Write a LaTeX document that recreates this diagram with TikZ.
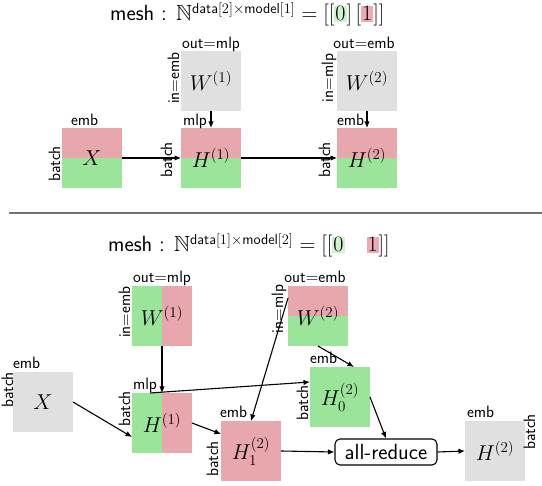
\RequirePackage{fix-cm}
\documentclass[tikz,border=0pt]{standalone}
\usepackage{amssymb}
\usepackage{fontspec}
\usetikzlibrary{arrows.meta,calc}

\definecolor{cgreen}{RGB}{154,229,154}
\definecolor{cpink}{RGB}{232,166,173}
\definecolor{cgray}{RGB}{224,224,224}
\definecolor{hlgreen}{RGB}{206,242,206}
\definecolor{hlpink}{RGB}{238,170,180}

\newcommand{\hlbox}[2]{{\setlength{\fboxsep}{1pt}\colorbox{#1}{$#2$}}}
\newcommand{\meshexp}[1]{\mbox{\fontsize{14.5}{17}\selectfont\sffamily #1}}

\tikzset{
  mat/.style={minimum width=60pt,minimum height=60pt,inner sep=0pt,outer sep=0pt,
    font=\fontsize{21.5}{25}\selectfont},
  grayb/.style={mat,fill=cgray},
  tbsplit/.style={mat,fill=cgreen,path picture={
    \fill[cpink] (path picture bounding box.north west) rectangle (path picture bounding box.east);}},
  lrsplit/.style={mat,fill=cpink,path picture={
    \fill[cgreen] (path picture bounding box.north west) rectangle (path picture bounding box.south);}},
  fullg/.style={mat,fill=cgreen},
  fullp/.style={mat,fill=cpink},
  lab/.style={font=\sffamily\fontsize{16.5}{19}\selectfont,inner sep=0pt,outer sep=0pt},
  vlab/.style={lab,rotate=90,anchor=base},
  toplab/.style={lab,anchor=base west},
  conn/.style={line width=1.1pt,-{Latex[length=6.5pt,width=5.5pt]}},
  title/.style={font=\sffamily\fontsize{22}{26}\selectfont,inner sep=0pt,anchor=base west},
}

\begin{document}
\begin{tikzpicture}[x=1pt,y=-1pt]
\useasboundingbox (0,0) rectangle (542,486);

% ---------- data-parallel layout ----------
\node[title] (t1) at (110,21)
  {mesh : $\mathbb{N}^{\meshexp{data$[2]\times$model$[1]$}}=[[\hlbox{hlgreen}{0}]\,[\hlbox{hlpink}{1}]]$};

\node[tbsplit] (X) at (92,158) {$X$};
\node[grayb] (W1) at (211,81) {$W^{(1)}$};
\node[tbsplit] (H1) at (211,158) {$H^{(1)}$};
\node[grayb] (W2) at (367,81) {$W^{(2)}$};
\node[tbsplit] (H2) at (367,158) {$H^{(2)}$};

\node[toplab] (Xe) at (71,126) {emb};
\node[vlab] (Xb) at (60,164) {batch};
\node[lab,anchor=base] (W1o) at (211,49) {out$=$mlp};
\node[vlab] (W1i) at (179,78) {in$=$emb};
\node[toplab] (H1m) at (183,126) {mlp};
\node[vlab] (H1b) at (172,160) {batch};
\node[lab,anchor=base] (W2o) at (364,49) {out$=$emb};
\node[vlab] (W2i) at (333,78) {in$=$mlp};
\node[toplab] (H2e) at (337,126) {emb};
\node[vlab] (H2b) at (330,160) {batch};

\draw[conn] (X.east) -- (H1.west);
\draw[conn] (H1.east) -- (H2.west);
\draw[conn] (W1.south) -- (H1.north);
\draw[conn] (W2.south) -- (H2.north);

% separator
\coordinate (sepL) at (9,213);
\coordinate (sepR) at (542,213);
\draw[line width=1.4pt,black!55] (sepL) -- (sepR);

% ---------- model-parallel layout ----------
\node[title] (t2) at (108,252)
  {mesh : $\mathbb{N}^{\meshexp{data$[1]\times$model$[2]$}}=[[\hlbox{hlgreen}{0}\quad\hlbox{hlpink}{1}]]$};

\node[grayb] (bX) at (43,402) {$X$};
\node[lrsplit] (bW1) at (162,316) {$W^{(1)}$};
\node[lrsplit] (bH1) at (162,423) {$H^{(1)}$};
\node[tbsplit] (bW2) at (318,316) {$W^{(2)}$};
\node[fullg] (H0) at (340,397) {$H^{(2)}_0$};
\node[fullp] (H12) at (251,451) {$H^{(2)}_1$};
\node[draw,line width=1.1pt,rounded corners=5pt,minimum width=102pt,minimum height=26pt,
  inner sep=0pt,font=\sffamily\fontsize{22}{26}\selectfont] (AR) at (386,452) {all-reduce};
\node[grayb] (Ho) at (495,451) {$H^{(2)}$};

\node[toplab] (bXe) at (13,369) {emb};
\node[vlab] (bXb) at (13,390) {batch};
\node[lab,anchor=base] (bW1o) at (162,283) {out$=$mlp};
\node[vlab] (bW1i) at (130,312) {in$=$emb};
\node[toplab] (bH1m) at (133,390) {mlp};
\node[vlab] (bH1b) at (130,409) {batch};
\node[lab,anchor=base] (bW2o) at (315,283) {out$=$emb};
\node[vlab] (bW2i) at (283,309) {in$=$mlp};
\node[toplab] (H0e) at (310,364) {emb};
\node[vlab] (H0b) at (308,403) {batch};
\node[toplab] (H12e) at (220,418) {emb};
\node[vlab] (H12b) at (218,459) {batch};
\node[toplab] (Hoe) at (467,418) {emb};
\node[vlab] (Hob) at (535,432) {batch};

\draw[conn] (bW1.south) -- (bH1.north);
\draw[conn] ($(bH1.north west)+(18,0)$) -- ($(H0.north west)+(0,15)$);
\draw[conn] (bX.east) -- ($(bH1.west)+(0,14)$);
\draw[conn] (bH1.east) -- ($(H12.north west)+(0,13)$);
\draw[conn] ($(bW2.north west)+(0,12)$) -- (H12.north);
\draw[conn] (bW2.south) -- ($(H0.north)+(14,0)$);
\draw[conn] (H0.east) -- (AR.north);
\draw[conn] (H12.east) -- (AR.west);
\draw[conn] (AR.east) -- (Ho.west);
\end{tikzpicture}
\end{document}
